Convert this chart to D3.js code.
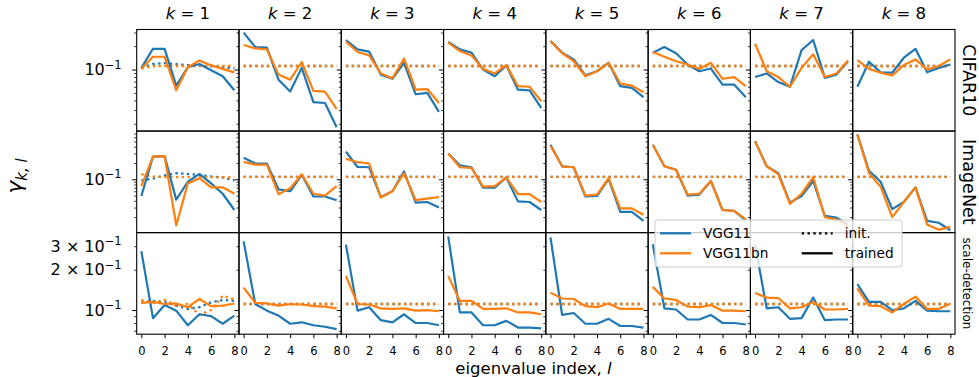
<!DOCTYPE html>
<html lang="en">
<head>
<meta charset="UTF-8">
<title>gamma k,l per eigenvalue index</title>
<script src="https://d3js.org/d3.v7.min.js"></script>
<style>
  body { margin: 0; background: #fff; }
  svg { display: block; font-family: "DejaVu Sans", sans-serif; }
</style>
</head>
<body>
<div id="chart"></div>
<script>
const width = 979;
const height = 377;
const marginLeft = 136.7;
const marginRight = 24;
const marginTop = 29.5;
const marginBottom = 42.8;

const blue = "#1f77b4";
const orange = "#ff7f0e";

// categories
const ks = [1, 2, 3, 4, 5, 6, 7, 8];
const datasets = ["CIFAR10", "ImageNet", "scale-detection"];
const eigIndex = [0, 1, 2, 3, 4, 5, 6, 7, 8];
const xTickValues = [0, 2, 4, 6, 8];

// trained, one array of 9 values per k
const cifarVgg11 = [
    [0.105, 0.185, 0.185, 0.062, 0.107, 0.118, 0.098, 0.082, 0.054],
    [0.299, 0.195, 0.191, 0.074, 0.052, 0.105, 0.038, 0.037, 0.018],
    [0.240, 0.182, 0.170, 0.086, 0.076, 0.122, 0.048, 0.050, 0.0285],
    [0.226, 0.182, 0.165, 0.100, 0.082, 0.113, 0.055, 0.054, 0.032],
    [0.233, 0.165, 0.135, 0.084, 0.095, 0.122, 0.061, 0.058, 0.044],
    [0.165, 0.195, 0.162, 0.116, 0.095, 0.103, 0.064, 0.064, 0.044],
    [0.080, 0.089, 0.069, 0.060, 0.178, 0.240, 0.078, 0.086, 0.128],
    [0.060, 0.126, 0.092, 0.091, 0.142, 0.185, 0.092, 0.105, 0.116]
];
const cifarVgg11bn = [
    [0.102, 0.146, 0.146, 0.054, 0.107, 0.131, 0.113, 0.102, 0.092],
    [0.207, 0.187, 0.182, 0.086, 0.074, 0.125, 0.053, 0.052, 0.031],
    [0.229, 0.168, 0.152, 0.089, 0.077, 0.138, 0.055, 0.056, 0.037],
    [0.222, 0.173, 0.152, 0.102, 0.089, 0.114, 0.061, 0.060, 0.039],
    [0.233, 0.162, 0.128, 0.082, 0.095, 0.122, 0.066, 0.062, 0.051],
    [0.168, 0.146, 0.128, 0.116, 0.102, 0.122, 0.076, 0.080, 0.061],
    [0.215, 0.095, 0.080, 0.060, 0.105, 0.157, 0.080, 0.089, 0.131],
    [0.132, 0.102, 0.091, 0.084, 0.114, 0.135, 0.100, 0.111, 0.135]
];
const imagenetVgg11 = [
    [0.049, 0.262, 0.269, 0.042, 0.090, 0.126, 0.084, 0.054, 0.027],
    [0.251, 0.196, 0.196, 0.065, 0.060, 0.121, 0.048, 0.048, 0.041],
    [0.326, 0.169, 0.167, 0.047, 0.060, 0.140, 0.037, 0.038, 0.030],
    [0.299, 0.182, 0.167, 0.070, 0.070, 0.108, 0.039, 0.038, 0.027],
    [0.436, 0.174, 0.167, 0.048, 0.049, 0.102, 0.025, 0.025, 0.017],
    [0.436, 0.174, 0.150, 0.050, 0.052, 0.093, 0.027, 0.026, 0.0174],
    [0.504, 0.174, 0.130, 0.037, 0.049, 0.093, 0.021, 0.0195, 0.0146],
    [0.675, 0.144, 0.090, 0.028, 0.038, 0.071, 0.017, 0.0157, 0.0114]
];
const imagenetVgg11bn = [
    [0.075, 0.262, 0.269, 0.0140, 0.084, 0.105, 0.071, 0.071, 0.054],
    [0.210, 0.187, 0.187, 0.053, 0.068, 0.124, 0.054, 0.050, 0.075],
    [0.240, 0.207, 0.196, 0.046, 0.060, 0.130, 0.041, 0.044, 0.047],
    [0.299, 0.167, 0.162, 0.073, 0.075, 0.108, 0.053, 0.053, 0.038],
    [0.417, 0.174, 0.167, 0.050, 0.052, 0.105, 0.029, 0.029, 0.022],
    [0.436, 0.174, 0.150, 0.052, 0.054, 0.093, 0.027, 0.026, 0.0182],
    [0.504, 0.174, 0.124, 0.035, 0.054, 0.109, 0.020, 0.018, 0.0136],
    [0.675, 0.130, 0.073, 0.020, 0.038, 0.071, 0.0146, 0.0117, 0.0132]
];
const scaleVgg11 = [
    [0.275, 0.087, 0.109, 0.099, 0.077, 0.093, 0.090, 0.079, 0.091],
    [0.326, 0.111, 0.099, 0.091, 0.079, 0.081, 0.077, 0.075, 0.072],
    [0.308, 0.099, 0.105, 0.084, 0.081, 0.093, 0.080, 0.080, 0.077],
    [0.355, 0.096, 0.096, 0.077, 0.077, 0.083, 0.074, 0.074, 0.073],
    [0.349, 0.092, 0.095, 0.079, 0.079, 0.086, 0.076, 0.076, 0.074],
    [0.310, 0.103, 0.101, 0.085, 0.085, 0.092, 0.080, 0.080, 0.078],
    [0.308, 0.103, 0.105, 0.086, 0.087, 0.124, 0.084, 0.085, 0.085],
    [0.156, 0.115, 0.115, 0.100, 0.103, 0.117, 0.099, 0.098, 0.098]
];
const scaleVgg11bn = [
    [0.113, 0.115, 0.111, 0.112, 0.105, 0.121, 0.107, 0.108, 0.112],
    [0.147, 0.113, 0.112, 0.108, 0.111, 0.110, 0.107, 0.106, 0.103],
    [0.180, 0.111, 0.110, 0.103, 0.102, 0.103, 0.099, 0.100, 0.098],
    [0.180, 0.117, 0.117, 0.102, 0.102, 0.103, 0.096, 0.096, 0.093],
    [0.135, 0.122, 0.121, 0.107, 0.105, 0.112, 0.102, 0.102, 0.102],
    [0.149, 0.122, 0.119, 0.106, 0.105, 0.109, 0.099, 0.099, 0.098],
    [0.134, 0.124, 0.123, 0.103, 0.105, 0.115, 0.101, 0.101, 0.102],
    [0.145, 0.108, 0.107, 0.096, 0.111, 0.126, 0.102, 0.102, 0.112]
];

// at init: flat for k >= 2, own values for k = 1
const uniformInit = [0.111, 0.111, 0.111, 0.111, 0.111, 0.111, 0.111, 0.111, 0.111];
const cifarInitK1Vgg11 = [0.105, 0.118, 0.121, 0.117, 0.114, 0.112, 0.110, 0.107, 0.104];
const cifarInitK1Vgg11bn = [0.103, 0.110, 0.111, 0.111, 0.111, 0.111, 0.111, 0.111, 0.111];
const imagenetInitK1Vgg11 = [0.095, 0.103, 0.118, 0.130, 0.125, 0.120, 0.113, 0.108, 0.095];
const imagenetInitK1Vgg11bn = [0.124, 0.112, 0.110, 0.110, 0.110, 0.110, 0.110, 0.110, 0.108];
const scaleInitK1Vgg11 = [0.114, 0.117, 0.115, 0.108, 0.102, 0.105, 0.114, 0.119, 0.117];
const scaleInitK1Vgg11bn = [0.119, 0.113, 0.119, 0.108, 0.111, 0.092, 0.100, 0.128, 0.120];

const trained = [
    [cifarVgg11, cifarVgg11bn],
    [imagenetVgg11, imagenetVgg11bn],
    [scaleVgg11, scaleVgg11bn]
];
const initK1 = [
    [cifarInitK1Vgg11, cifarInitK1Vgg11bn],
    [imagenetInitK1Vgg11, imagenetInitK1Vgg11bn],
    [scaleInitK1Vgg11, scaleInitK1Vgg11bn]
];

// y range per row (log), and labelled y ticks of the first column
const rowDomains = [[0.0161, 0.328], [0.0103, 0.78], [0.066, 0.379]];
const rowTickLabels = [
    [{ v: 0.1, pre: "" }],
    [{ v: 0.1, pre: "" }],
    [{ v: 0.3, pre: "3 \u00d7 " }, { v: 0.2, pre: "2 \u00d7 " }, { v: 0.1, pre: "" }]
];

const nCols = ks.length;
const nRows = datasets.length;
const pw = (width - marginLeft - marginRight) / nCols;
const ph = (height - marginTop - marginBottom) / nRows;

const svg = d3.select("#chart")
    .append("svg")
    .attr("width", width)
    .attr("height", height);

function logTicks(domain) {
    const out = [];
    for (let e = -3; e <= 0; e++) {
        for (let m = 1; m <= 9; m++) {
            const v = m * Math.pow(10, e);
            if (v >= domain[0] && v <= domain[1]) out.push(v);
        }
    }
    return out;
}

datasets.forEach((name, r) => {
    const y0 = marginTop + r * ph;
    const all = logTicks(rowDomains[r]);
    const majors = all.filter(v => Math.abs(Math.log10(v) - Math.round(Math.log10(v))) < 1e-9);
    const minors = all.filter(v => !majors.includes(v));

    ks.forEach((k, c) => {
        const x0 = marginLeft + c * pw;
        const x = d3.scaleLinear().domain([-0.4, 8.4]).range([x0, x0 + pw]);
        const y = d3.scaleLog().domain(rowDomains[r]).range([y0 + ph, y0]);

        const clipId = `clip-${r}-${c}`;
        svg.append("clipPath").attr("id", clipId)
            .append("rect")
            .attr("x", x0).attr("y", y0).attr("width", pw).attr("height", ph);

        const panel = svg.append("g").attr("clip-path", `url(#${clipId})`);
        const line = d3.line().x((d, i) => x(eigIndex[i])).y(d => y(d));

        // init (dotted) first, then trained
        [blue, orange].forEach((col, m) => {
            const vals = c === 0 ? initK1[r][m] : uniformInit;
            panel.append("path")
                .attr("d", line(vals))
                .attr("fill", "none")
                .attr("stroke", col)
                .attr("stroke-width", 2.3)
                .attr("stroke-dasharray", "2.4,3.4");
        });
        [blue, orange].forEach((col, m) => {
            panel.append("path")
                .attr("d", line(trained[r][m][c]))
                .attr("fill", "none")
                .attr("stroke", col)
                .attr("stroke-width", 2.2)
                .attr("stroke-linejoin", "round");
        });

        // y ticks (outward, left side)
        const ya = svg.append("g").attr("transform", `translate(${x0},0)`);
        ya.call(d3.axisLeft(y).tickValues(majors).tickSize(4.5).tickFormat(""))
            .call(g => g.select(".domain").remove());
        ya.append("g")
            .call(d3.axisLeft(y).tickValues(minors).tickSize(2.5).tickFormat(""))
            .call(g => g.select(".domain").remove())
            .selectAll("line").attr("stroke-width", 0.8);

        // x ticks on bottom row
        if (r === nRows - 1) {
            svg.append("g")
                .attr("transform", `translate(0,${y0 + ph})`)
                .call(d3.axisBottom(x).tickValues(xTickValues).tickSize(4).tickPadding(9))
                .call(g => g.select(".domain").remove())
                .call(g => g.selectAll("text").attr("font-size", 11.5).attr("font-family", "DejaVu Sans").attr("fill", "#000"));
        }

        svg.append("rect")
            .attr("x", x0).attr("y", y0).attr("width", pw).attr("height", ph)
            .attr("fill", "none").attr("stroke", "#000").attr("stroke-width", 1.1);

        if (c === 0) {
            rowTickLabels[r].forEach(t => {
                const txt = svg.append("text")
                    .attr("x", x0 - 15)
                    .attr("y", y(t.v) + 5.5)
                    .attr("text-anchor", "end")
                    .attr("font-size", 16);
                txt.append("tspan").text(t.pre + "10");
                txt.append("tspan").attr("font-size", 11.5).attr("dy", -6.5).text("\u22121");
            });
        }
        if (r === 0) {
            const title = svg.append("text")
                .attr("x", x0 + pw / 2)
                .attr("y", 18.5)
                .attr("text-anchor", "middle")
                .attr("font-size", 16.5);
            title.append("tspan").attr("font-style", "italic").text("k");
            title.append("tspan").text(" = " + k);
        }
    });

    // dataset name on the right
    svg.append("text")
        .attr("transform", `translate(963,${y0 + ph / 2}) rotate(90)`)
        .attr("text-anchor", "middle")
        .attr("font-size", r === 2 ? 12 : 17.5)
        .text(name);
});

// axis labels
const xl = svg.append("text")
    .attr("x", 533.5)
    .attr("y", 373.5)
    .attr("text-anchor", "middle")
    .attr("font-size", 16.5);
xl.append("tspan").text("eigenvalue index, ");
xl.append("tspan").attr("font-style", "italic").text("l");

const yl = svg.append("text")
    .attr("transform", "translate(22,176) rotate(-90)")
    .attr("text-anchor", "middle")
    .attr("font-size", 22);
yl.append("tspan").attr("font-style", "italic").text("\u03b3");
yl.append("tspan").attr("font-style", "italic").attr("font-size", 15).attr("dy", 5).text("k, l");

// legend
const legend = svg.append("g");
legend.append("rect")
    .attr("x", 655).attr("y", 220).attr("width", 247).attr("height", 47)
    .attr("rx", 3)
    .attr("fill", "#fff").attr("fill-opacity", 0.8)
    .attr("stroke", "#ccc").attr("stroke-width", 1);
const legendItems = [
    { label: "VGG11", color: blue, dash: null, lx: 660, ly: 233.3 },
    { label: "VGG11bn", color: orange, dash: null, lx: 660, ly: 253.3 },
    { label: "init.", color: "#000", dash: "2.4,3.4", lx: 801.7, ly: 233.3 },
    { label: "trained", color: "#000", dash: null, lx: 801.7, ly: 253.3 }
];
legendItems.forEach(d => {
    legend.append("line")
        .attr("x1", d.lx).attr("x2", d.lx + 31)
        .attr("y1", d.ly).attr("y2", d.ly)
        .attr("stroke", d.color).attr("stroke-width", 2.3)
        .attr("stroke-dasharray", d.dash);
    legend.append("text")
        .attr("x", d.lx + 43)
        .attr("y", d.ly + 5)
        .attr("font-size", 13.7)
        .text(d.label);
});
</script>
</body>
</html>
